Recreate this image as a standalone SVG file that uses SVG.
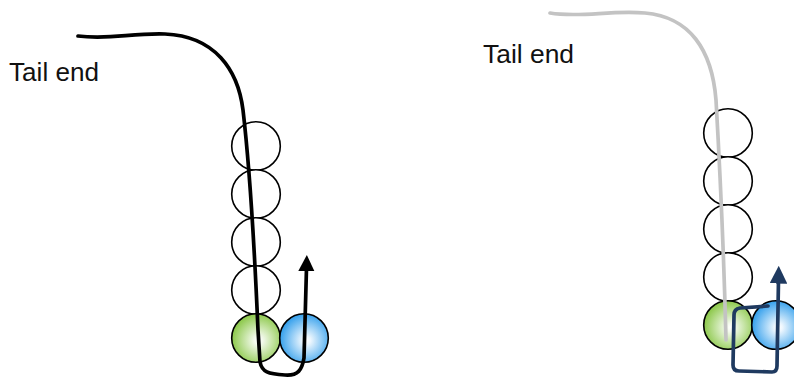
<svg xmlns="http://www.w3.org/2000/svg" width="794" height="379" viewBox="0 0 794 379">
<defs>
<radialGradient id="gGreen" cx="0.55" cy="0.55" r="0.55">
<stop offset="0" stop-color="#ffffff"/>
<stop offset="0.15" stop-color="#f4faee"/>
<stop offset="1" stop-color="#8cc84a"/>
</radialGradient>
<radialGradient id="gBlue" cx="0.55" cy="0.55" r="0.55">
<stop offset="0" stop-color="#ffffff"/>
<stop offset="0.15" stop-color="#eef7fe"/>
<stop offset="1" stop-color="#35a0ec"/>
</radialGradient>
<marker id="arrBlack" viewBox="0 0 10 10" refX="2" refY="5" markerWidth="4.4" markerHeight="4.4" orient="auto" markerUnits="strokeWidth">
<path d="M0,0 L10,5 L0,10 z" fill="#000"/>
</marker>
<marker id="arrNavy" viewBox="0 0 10 10" refX="2" refY="5" markerWidth="4.8" markerHeight="4.8" orient="auto" markerUnits="strokeWidth">
<path d="M0,0 L10,5 L0,10 z" fill="#1f3a60"/>
</marker>
</defs>
<style>
.bead{fill:#fff;stroke:#000;stroke-width:1.6}
.green{fill:url(#gGreen);stroke:#000;stroke-width:1.6}
.blue{fill:url(#gBlue);stroke:#000;stroke-width:1.6}
.lbl{font-family:"Liberation Sans",Arial,sans-serif;font-size:26px;fill:#111}
.ln{fill:none;stroke-width:3.7;stroke-linecap:round;stroke-linejoin:round}
</style>
<g id="label-left"><text class="lbl" x="9" y="81" textLength="90" lengthAdjust="spacingAndGlyphs">Tail end</text></g>
<g id="label-right"><text class="lbl" x="483" y="63" textLength="91" lengthAdjust="spacingAndGlyphs">Tail end</text></g>
<g id="left-bead-1"><circle class="bead" cx="256" cy="146" r="24.3"/></g>
<g id="left-bead-2"><circle class="bead" cx="256" cy="194" r="24.3"/></g>
<g id="left-bead-3"><circle class="bead" cx="256" cy="242" r="24.3"/></g>
<g id="left-bead-4"><circle class="bead" cx="256" cy="290" r="24.3"/></g>
<g id="left-green"><circle class="green" cx="256" cy="338" r="24.3"/></g>
<g id="left-blue"><circle class="blue" cx="304" cy="338" r="24.3"/></g>
<g id="right-bead-1"><circle class="bead" cx="728" cy="133" r="24.3"/></g>
<g id="right-bead-2"><circle class="bead" cx="728" cy="181" r="24.3"/></g>
<g id="right-bead-3"><circle class="bead" cx="728" cy="229" r="24.3"/></g>
<g id="right-bead-4"><circle class="bead" cx="728" cy="277" r="24.3"/></g>
<g id="right-green"><circle class="green" cx="728" cy="325" r="24.3"/></g>
<g id="right-blue"><circle class="blue" cx="776" cy="325" r="24.3"/></g>
<g id="connectors">
<path class="ln" stroke="#000" marker-end="url(#arrBlack)" d="M78,36 C110,40 130,33 165,34 C215,36 238,70 243,110 C250,170 255,260 258,330 L260,362 C262,372 268,374 285,375 C298,376 302,370 304,358 L306.5,268"/>
<path class="ln" stroke="#c3c3c3" d="M550,13 C580,18 610,10 645,13 C690,17 712,50 716,100 C720,170 724,260 726,340"/>
<path class="ln" stroke="#1f3a60" marker-end="url(#arrNavy)" d="M768,306 L740,308 Q734,309 734,315 L733,365 Q733,371 739,371 L772,372 Q777,372 777,366 L778.5,280"/>
</g>
</svg>
